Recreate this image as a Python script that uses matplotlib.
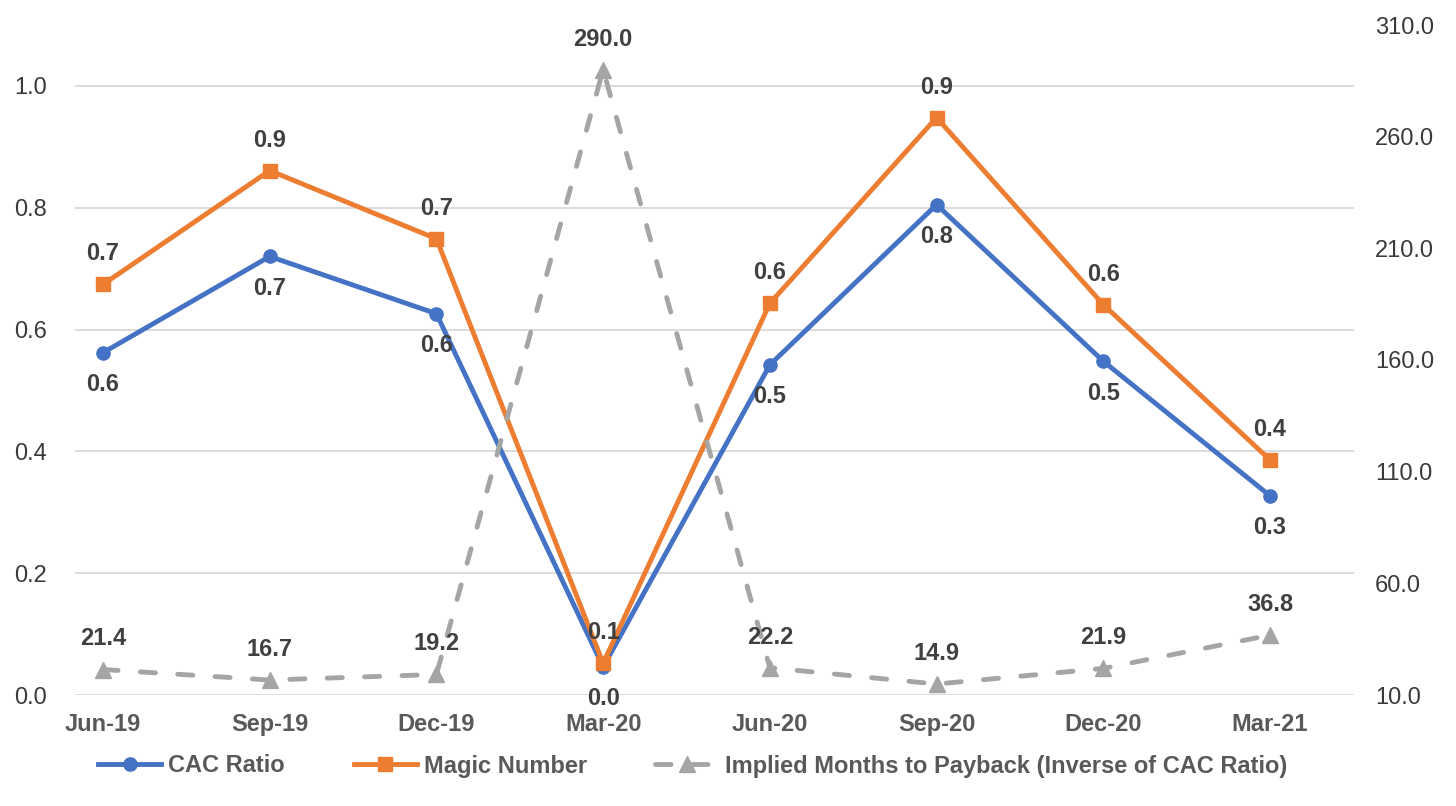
import matplotlib
matplotlib.use("Agg")
import matplotlib.pyplot as plt
from matplotlib.lines import Line2D

plt.rcParams['font.family'] = ['Liberation Sans', 'DejaVu Sans']

categories = ["Jun-19", "Sep-19", "Dec-19", "Mar-20", "Jun-20", "Sep-20", "Dec-20", "Mar-21"]
cac_ratio = [0.562, 0.720, 0.626, 0.046, 0.542, 0.805, 0.548, 0.327]
magic_number = [0.674, 0.861, 0.749, 0.052, 0.643, 0.948, 0.641, 0.386]
months_payback = [21.4, 16.7, 19.2, 290.0, 22.2, 14.9, 21.9, 36.8]

left_ticks = [0.0, 0.2, 0.4, 0.6, 0.8, 1.0]
right_ticks = [10, 60, 110, 160, 210, 260, 310]

BLUE = '#4472C4'
ORANGE = '#ED7D31'
GRAY = '#A5A5A5'
LABEL = '#404040'
TICK = '#595959'
GRID = '#D9D9D9'
FS = 17

fig = plt.figure(figsize=(14.56, 8.06), dpi=100)
ax = fig.add_axes([75/1456, 1-695/806, (1354-75)/1456, (695-25)/806])
ax2 = ax.twinx()

x = list(range(len(categories)))

ax.plot(x, cac_ratio, color=BLUE, lw=3.5, marker='o', ms=9.5, zorder=3)
ax.plot(x, magic_number, color=ORANGE, lw=3.5, marker='s', ms=10.5, zorder=4)
ax2.plot(x, months_payback, color=GRAY, lw=3.5, linestyle=(0, (3.1, 4.6)),
         dash_capstyle='round', marker='^', ms=11.5, zorder=3)

for xi, v in zip(x, cac_ratio):
    ax.annotate(f"{v:.1f}", (xi, v), xytext=(0, -23), textcoords='offset points',
                ha='center', va='center', fontsize=FS, fontweight='bold', color=LABEL, zorder=6)
for xi, v in zip(x, magic_number):
    ax.annotate(f"{v:.1f}", (xi, v), xytext=(0, 22), textcoords='offset points',
                ha='center', va='center', fontsize=FS, fontweight='bold', color=LABEL, zorder=6)
for xi, v in zip(x, months_payback):
    ax2.annotate(f"{v:.1f}", (xi, v), xytext=(0, 22), textcoords='offset points',
                 ha='center', va='center', fontsize=FS, fontweight='bold', color=LABEL, zorder=6)

x0 = -28/166.7
x1 = 7 + 84/166.7
ax.set_xlim(x0, x1)
ax2.set_xlim(x0, x1)
ax.set_ylim(0, 1.1)
ax2.set_ylim(10, 310)

ax.set_yticks(left_ticks)
ax.set_yticklabels([f"{t:.1f}" for t in left_ticks])
ax2.set_yticks(right_ticks)
ax2.set_yticklabels([f"{t:.1f}" for t in right_ticks])
ax.set_xticks(x)
ax.set_xticklabels(categories)

ax.tick_params(axis='y', length=0, pad=20, labelsize=FS, labelcolor='#3a3a3a')
ax2.tick_params(axis='y', length=0, pad=15, labelsize=FS, labelcolor='#3a3a3a')
ax.tick_params(axis='x', length=0, pad=13, labelsize=FS, labelcolor=TICK)
for lbl in ax.get_xticklabels():
    lbl.set_fontweight('bold')

ax.grid(axis='y', color=GRID, lw=1.3)
ax.set_axisbelow(True)
for a in (ax, ax2):
    for s in a.spines.values():
        s.set_visible(False)

handles = [
    Line2D([], [], color=BLUE, lw=3.5, marker='o', ms=9.5),
    Line2D([], [], color=ORANGE, lw=3.5, marker='s', ms=10.5),
    Line2D([], [], color=GRAY, lw=3.5, linestyle=(0, (3.2, 4.4)), dash_capstyle='round',
           marker='^', ms=11.5),
]
names = ["CAC Ratio", "Magic Number", "Implied Months to Payback (Inverse of CAC Ratio)"]
leg = fig.legend(handles, names, loc='center', bbox_to_anchor=(693/1456, 1-766/806), ncol=3,
                 frameon=False, handlelength=2.67, handletextpad=0.3, columnspacing=2.9,
                 prop={'size': FS, 'weight': 'bold'})
for t in leg.get_texts():
    t.set_color(TICK)

fig.savefig("out.png", dpi=100)
